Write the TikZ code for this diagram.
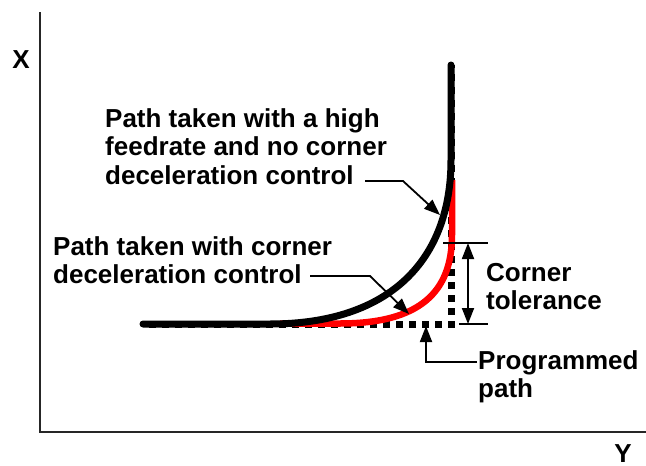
\documentclass[tikz,border=0pt]{standalone}
\usepackage{fontspec}
\setmainfont{Liberation Sans}
\usetikzlibrary{arrows.meta}
\begin{document}
\begin{tikzpicture}[x=1pt,y=-1pt,
  lbl/.style={font=\bfseries\fontsize{26}{28.5}\selectfont, align=left, inner sep=0pt, anchor=north west},
  axlbl/.style={font=\bfseries\fontsize{26}{28.5}\selectfont, inner sep=0pt, anchor=base},
  axisline/.style={line width=1.5pt, draw=black!85},
  tipshape/.tip={Triangle[length=16pt,width=12pt]},
  ptr/.style={line width=1.8pt, -tipshape},
  dblptr/.style={line width=1.8pt, tipshape-tipshape},
  tickline/.style={line width=1.3pt},
  progpath/.style={line width=7pt, dash pattern=on 7pt off 6pt},
  fastpath/.style={line width=7pt, line cap=round},
  slowpath/.style={line width=6.5pt, draw={rgb,255:red,255;green,0;blue,0}},
]
\useasboundingbox (0,0) rectangle (646,466);

% axes
\coordinate (o) at (40,432);
\coordinate (xtop) at (40,12);
\coordinate (yend) at (646,432);
\draw[axisline] (xtop) -- (o) -- (yend);
\node[axlbl] (xl) at (21,68) {X};
\node[axlbl] (yl) at (623,462) {Y};

% programmed path (dotted)
\coordinate (corner) at (451,324);
\draw[progpath] (454.5,324) -- (146,324);
\draw[progpath] (451,327.5) -- (451,65);

% path with corner deceleration control (red)
\draw[slowpath] (280,323.5) -- (340,323.5) .. controls (420,323.5) and (452,292) .. (452,235) -- (452,180);

% path with high feedrate (black)
\draw[fastpath] (143,324) -- (270,324) .. controls (390,324) and (451,260) .. (451,160) -- (451,65);

% labels
\node[lbl] (hi) at (105,108.4) {Path taken with a high\\feedrate and no corner\\deceleration control};
\node[lbl] (cd) at (53,236.4) {Path taken with corner\\deceleration control};
\node[lbl] (ct) at (486,263) {Corner\\tolerance};
\node[lbl] (pp) at (478,350) {Programmed\\path};

% pointers
\coordinate (a1s) at (365,181);
\coordinate (a1b) at (403,181);
\coordinate (a1t) at (440,215);
\draw[ptr] (a1s) -- (a1b) -- (a1t);

\coordinate (a2s) at (310,276);
\coordinate (a2b) at (370,276);
\coordinate (a2t) at (409,314);
\draw[ptr] (a2s) -- (a2b) -- (a2t);

\coordinate (a3s) at (477,362);
\coordinate (a3b) at (426,362);
\coordinate (a3t) at (426,326);
\draw[ptr] (a3s) -- (a3b) -- (a3t);

% corner tolerance
\coordinate (t1a) at (443,243);
\coordinate (t1b) at (488,243);
\coordinate (t2a) at (459,324);
\coordinate (t2b) at (488,324);
\draw[tickline] (t1a) -- (t1b);
\draw[tickline] (t2a) -- (t2b);
\coordinate (d1) at (468,243);
\coordinate (d2) at (468,324);
\draw[dblptr] (d1) -- (d2);
\end{tikzpicture}
\end{document}
